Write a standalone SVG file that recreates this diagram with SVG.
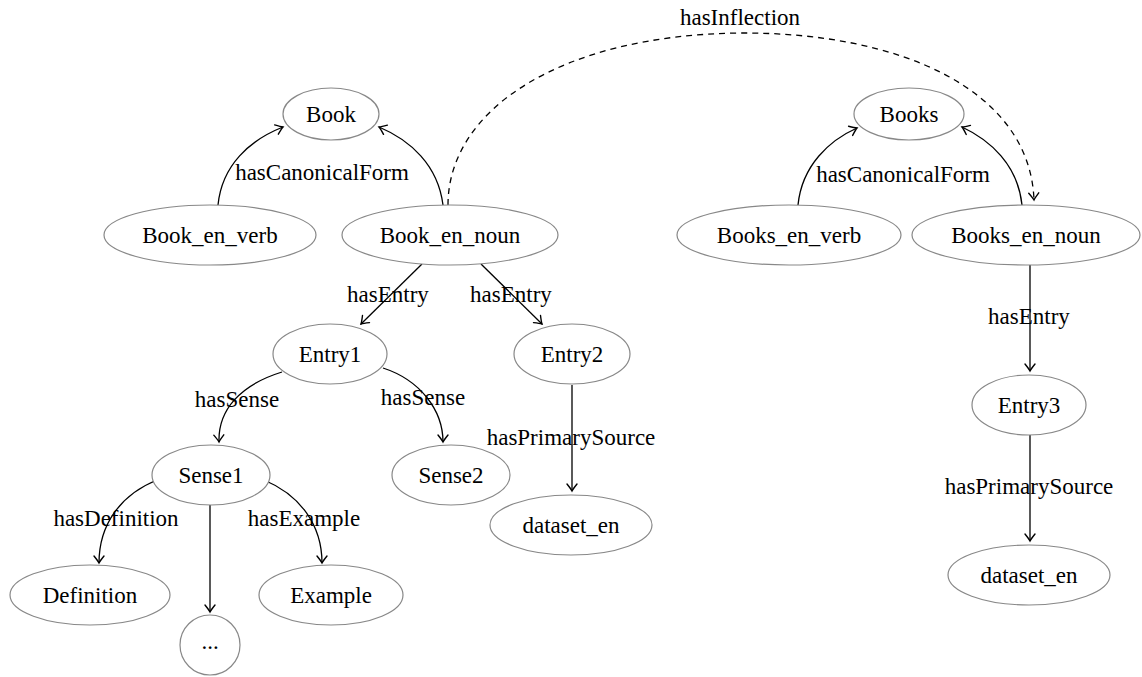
<svg xmlns="http://www.w3.org/2000/svg" width="1142" height="677" viewBox="0 0 1142 677">
<style>
.n ellipse, .n circle { fill: #fff; stroke: #888; stroke-width: 1.2; }
text { font-family: "Liberation Serif", "Times New Roman", serif; font-size: 23px; fill: #000; text-anchor: middle; }
.e { fill: none; stroke: #000; stroke-width: 1.3; marker-end: url(#arr); }
.d { stroke-dasharray: 6 5; }
</style>
<defs>
<marker id="arr" markerUnits="userSpaceOnUse" markerWidth="14" markerHeight="14" viewBox="-10 -7 12 14" refX="0" refY="0" orient="auto">
<path d="M-7,-5 Q-2,-1 0,0 Q-2,1 -7,5" fill="none" stroke="#000" stroke-width="1.4" stroke-linecap="round"/>
</marker>
</defs>
<g id="connectors">
<path class="e" d="M218,205 C222,165 250,140 283,127"/>
<path class="e" d="M443,205 C438,165 410,140 379,127"/>
<path class="e d" d="M448,205 C448,110 560,35 740,33 C900,32 1030,90 1034,200"/>
<path class="e" d="M422,264 L361,324"/>
<path class="e" d="M481,264 L542,324"/>
<path class="e" d="M282,372 C240,385 218,410 219,442"/>
<path class="e" d="M383,368 C420,380 443,410 443,442"/>
<path class="e" d="M572,385 L572,491"/>
<path class="e" d="M157,480 C120,495 99,525 99,563"/>
<path class="e" d="M264,480 C300,495 322,525 322,563"/>
<path class="e" d="M210,505 L210,612"/>
<path class="e" d="M798,205 C802,165 830,140 857,128"/>
<path class="e" d="M1022,205 C1018,165 990,140 962,127"/>
<path class="e" d="M1030,265 L1030,371"/>
<path class="e" d="M1030,435 L1030,541"/>
<text x="322" y="180">hasCanonicalForm</text>
<text x="740" y="25">hasInflection</text>
<text x="388" y="302">hasEntry</text>
<text x="511" y="302">hasEntry</text>
<text x="237" y="407">hasSense</text>
<text x="423" y="405">hasSense</text>
<text x="571" y="445">hasPrimarySource</text>
<text x="116" y="526">hasDefinition</text>
<text x="304" y="526">hasExample</text>
<text x="903" y="182">hasCanonicalForm</text>
<text x="1029" y="324">hasEntry</text>
<text x="1029" y="494">hasPrimarySource</text>
</g>
<g id="Book" class="n"><ellipse cx="331" cy="114" rx="48" ry="26"/><text x="331" y="122">Book</text></g>
<g id="Book_en_verb" class="n"><ellipse cx="210" cy="235" rx="106" ry="30"/><text x="210" y="243">Book_en_verb</text></g>
<g id="Book_en_noun" class="n"><ellipse cx="450" cy="235" rx="108" ry="30"/><text x="450" y="243">Book_en_noun</text></g>
<g id="Entry1" class="n"><ellipse cx="330" cy="354" rx="57" ry="30"/><text x="330" y="362">Entry1</text></g>
<g id="Entry2" class="n"><ellipse cx="572" cy="354" rx="58" ry="30"/><text x="572" y="362">Entry2</text></g>
<g id="Sense1" class="n"><ellipse cx="211" cy="475" rx="59" ry="30"/><text x="211" y="483">Sense1</text></g>
<g id="Sense2" class="n"><ellipse cx="451" cy="475" rx="59" ry="30"/><text x="451" y="483">Sense2</text></g>
<g id="dataset_en_1" class="n"><ellipse cx="571" cy="525" rx="81" ry="30"/><text x="571" y="533">dataset_en</text></g>
<g id="Definition" class="n"><ellipse cx="90" cy="595" rx="80" ry="30"/><text x="90" y="603">Definition</text></g>
<g id="Example" class="n"><ellipse cx="331" cy="595" rx="72" ry="30"/><text x="331" y="603">Example</text></g>
<g id="more" class="n"><circle cx="210" cy="645" r="30"/><text x="210" y="649">...</text></g>
<g id="Books" class="n"><ellipse cx="909" cy="114" rx="55" ry="26"/><text x="909" y="122">Books</text></g>
<g id="Books_en_verb" class="n"><ellipse cx="789" cy="235" rx="112" ry="30"/><text x="789" y="243">Books_en_verb</text></g>
<g id="Books_en_noun" class="n"><ellipse cx="1026" cy="235" rx="114" ry="30"/><text x="1026" y="243">Books_en_noun</text></g>
<g id="Entry3" class="n"><ellipse cx="1029" cy="405" rx="57" ry="30"/><text x="1029" y="413">Entry3</text></g>
<g id="dataset_en_2" class="n"><ellipse cx="1029" cy="575" rx="81" ry="30"/><text x="1029" y="583">dataset_en</text></g>
</svg>
